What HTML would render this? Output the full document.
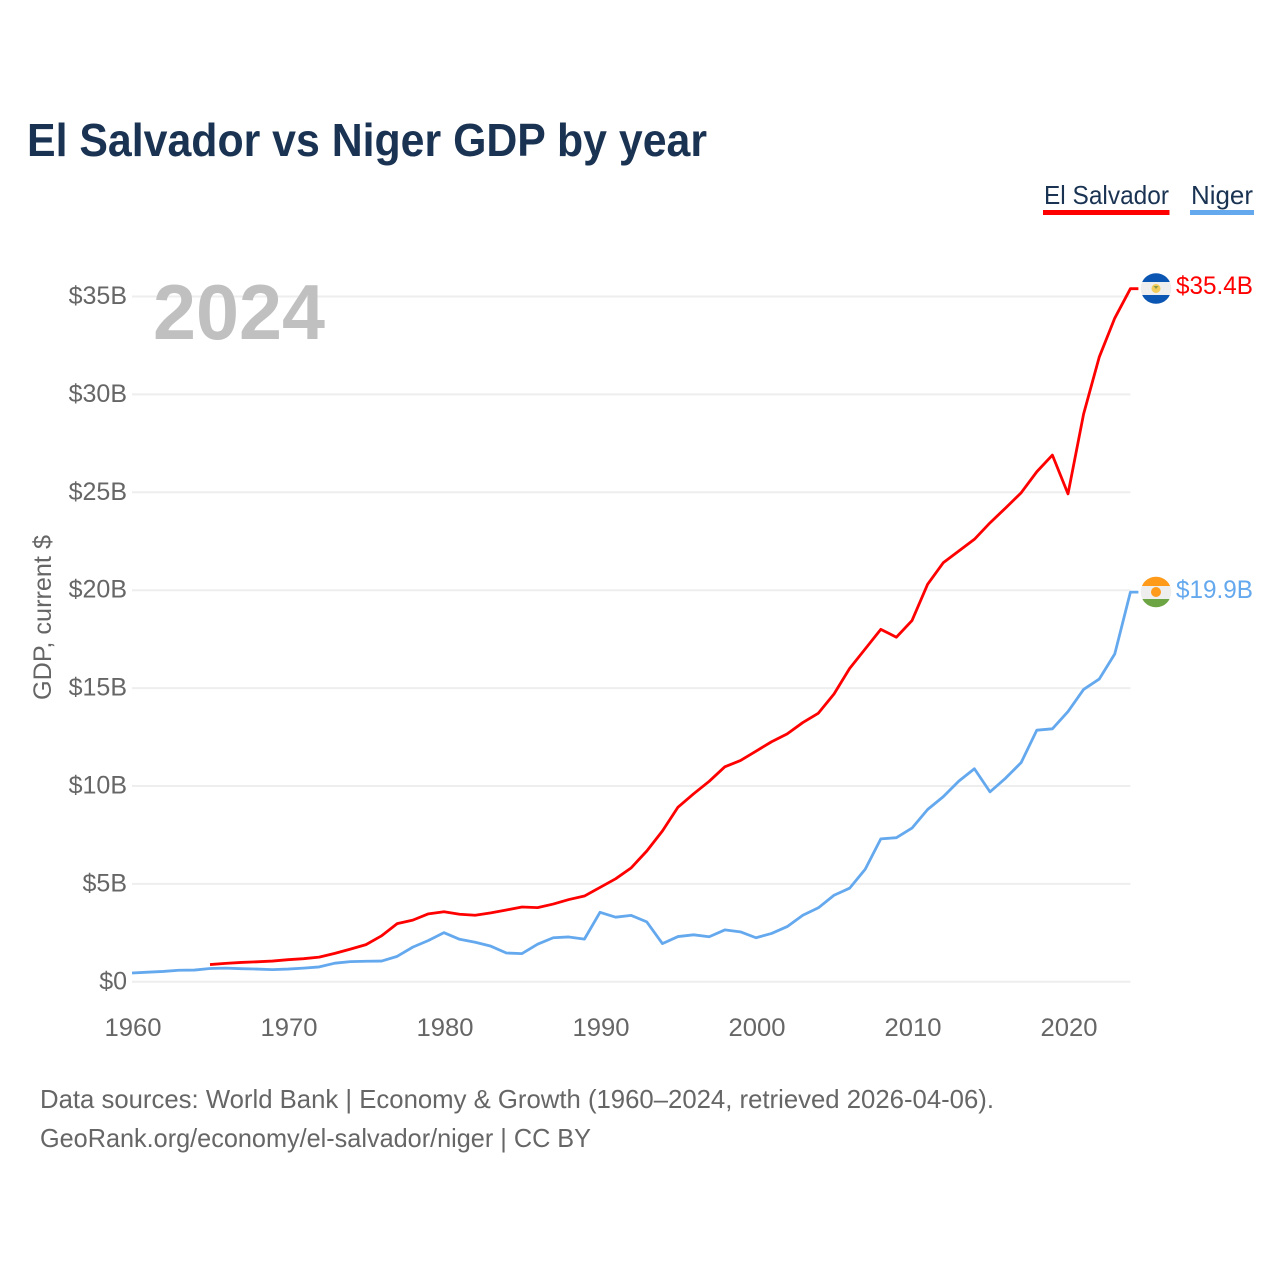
<!DOCTYPE html>
<html lang="en">
<head>
<meta charset="utf-8">
<title>El Salvador vs Niger GDP by year</title>
<style>
html,body{margin:0;padding:0;background:#fff;}
svg{display:block;font-family:"Liberation Sans",sans-serif;}
</style>
</head>
<body>
<svg id="chart" xmlns="http://www.w3.org/2000/svg" width="1280" height="1280" viewBox="0 0 1280 1280">
  <rect x="0" y="0" width="1280" height="1280" fill="#fff"/>
  <text x="27" y="156" font-size="46" font-weight="bold" fill="#1a3353" textLength="680" lengthAdjust="spacingAndGlyphs">El Salvador vs Niger GDP by year</text>

  <g>
    <text x="1044" y="204" font-size="26" fill="#1a3353" textLength="125" lengthAdjust="spacingAndGlyphs">El Salvador</text>
    <rect x="1043" y="210" width="126.500" height="5" fill="#ff0000"/>
  </g>
  <g>
    <text x="1191" y="204" font-size="26" fill="#1a3353" textLength="62" lengthAdjust="spacingAndGlyphs">Niger</text>
    <rect x="1190" y="210" width="64" height="5" fill="#64a8ee"/>
  </g>

  <g id="grid"></g>
  <g id="yticks"></g>
  <g id="xticks"></g>

  <text x="153" y="339" font-size="78" font-weight="bold" fill="#c0c0c0" textLength="172" lengthAdjust="spacingAndGlyphs">2024</text>
  <text transform="translate(51,700) rotate(-90)" font-size="25" fill="#666" textLength="165" lengthAdjust="spacingAndGlyphs">GDP, current $</text>

  <g id="series"></g>

  <defs>
    <clipPath id="clip-sv"><circle cx="1156" cy="288.500" r="15.300"/></clipPath>
    <clipPath id="clip-ne"><circle cx="1156" cy="592" r="15.300"/></clipPath>
  </defs>
  <g clip-path="url(#clip-sv)">
    <rect x="1140" y="272" width="32" height="33" fill="#eeeeee"/>
    <rect x="1140" y="272" width="32" height="10" fill="#0b55b3"/>
    <rect x="1140" y="295" width="32" height="10" fill="#0b55b3"/>
    <circle cx="1156" cy="288.500" r="4.500" fill="#f2cd5c"/>
    <path d="M1153.500 286h5l-2.500 3z" fill="#8a9a4a"/>
  </g>
  <g clip-path="url(#clip-ne)">
    <rect x="1140" y="576" width="32" height="32" fill="#eeeeee"/>
    <rect x="1140" y="576" width="32" height="10" fill="#ff9a1a"/>
    <rect x="1140" y="599" width="32" height="9" fill="#6da544"/>
    <circle cx="1156" cy="592" r="5" fill="#ff9a1a"/>
  </g>

  <text x="1176" y="294" font-size="25" fill="#ff0000" textLength="77" lengthAdjust="spacingAndGlyphs">$35.4B</text>
  <text x="1176" y="598" font-size="25" fill="#64a8ee" textLength="77" lengthAdjust="spacingAndGlyphs">$19.9B</text>

  <text x="40" y="1108" font-size="26" fill="#666" textLength="954" lengthAdjust="spacingAndGlyphs">Data sources: World Bank | Economy &amp; Growth (1960–2024, retrieved 2026-04-06).</text>
  <text x="40" y="1147" font-size="26" fill="#666" textLength="551" lengthAdjust="spacingAndGlyphs">GeoRank.org/economy/el-salvador/niger | CC BY</text>
</svg>
<script>
const yTickValues = [0, 5, 10, 15, 20, 25, 30, 35];
const xTickYears = [1960, 1970, 1980, 1990, 2000, 2010, 2020];
const elSalvadorStartYear = 1965;
const elSalvadorGdp = [0.88,0.94,0.99,1.02,1.06,1.13,1.18,1.26,1.45,1.67,1.9,2.35,2.97,3.15,3.47,3.58,3.45,3.4,3.52,3.67,3.82,3.79,3.97,4.2,4.38,4.82,5.26,5.82,6.68,7.7,8.92,9.6,10.24,10.98,11.3,11.78,12.26,12.66,13.24,13.72,14.7,16.0,17.0,18.0,17.6,18.45,20.3,21.4,22.0,22.6,23.44,24.2,24.98,26.05,26.9,24.92,29.0,31.9,33.9,35.4];
const nigerStartYear = 1960;
const nigerGdp = [0.45,0.49,0.53,0.59,0.6,0.68,0.7,0.67,0.65,0.62,0.65,0.7,0.76,0.95,1.03,1.05,1.06,1.3,1.77,2.11,2.51,2.17,2.02,1.82,1.47,1.44,1.92,2.25,2.29,2.18,3.55,3.3,3.39,3.06,1.95,2.31,2.4,2.3,2.65,2.55,2.25,2.47,2.82,3.4,3.78,4.42,4.78,5.75,7.3,7.36,7.85,8.8,9.45,10.25,10.88,9.7,10.4,11.2,12.85,12.92,13.8,14.93,15.46,16.75,19.9];

const NS = 'http://www.w3.org/2000/svg';
function xScale(year) { return 132 + (year - 1960) * 15.6; }
function yScale(value) { return 981.8 - value * 19.58; }
function make(tag, attrs, parent) {
  const el = document.createElementNS(NS, tag);
  for (const k in attrs) el.setAttribute(k, attrs[k]);
  parent.appendChild(el);
  return el;
}
const gridGroup = document.getElementById('grid');
const yGroup = document.getElementById('yticks');
const xGroup = document.getElementById('xticks');
const seriesGroup = document.getElementById('series');

yTickValues.forEach(function (v) {
  const line = make('line', {x1: xScale(1960), x2: xScale(2024), y1: yScale(v), y2: yScale(v), stroke: '#eeeeee', 'stroke-width': 2}, gridGroup);
  
  
  const label = make('text', {x: 127, y: yScale(v) + 7.5, 'text-anchor': 'end', 'font-size': 25, fill: '#666'}, yGroup);
  label.textContent = '$' + v + (v === 0 ? '' : 'B');
  
  
});

xTickYears.forEach(function (yr) {
  const label = make('text', {x: xScale(yr) + 1, y: 1036, 'text-anchor': 'middle', 'font-size': 25, fill: '#666', textLength: 57, lengthAdjust: 'spacingAndGlyphs'}, xGroup);
  label.textContent = String(yr);
  
  
});

function drawSeries(values, startYear, color) {
  const pts = values.map(function (v, i) { return xScale(startYear + i).toFixed(2) + ',' + yScale(v).toFixed(2); });
  const last = values[values.length - 1];
  pts.push((xScale(startYear + values.length - 1) + 8).toFixed(2) + ',' + yScale(last).toFixed(2));
  return make('polyline', {points: pts.join(' '), fill: 'none', stroke: color, 'stroke-width': 2.8, 'stroke-linejoin': 'round'}, seriesGroup);
}
const nigerLine = drawSeries(nigerGdp, nigerStartYear, '#64a8ee');


const salvadorLine = drawSeries(elSalvadorGdp, elSalvadorStartYear, '#ff0000');


</script>
</body>
</html>
